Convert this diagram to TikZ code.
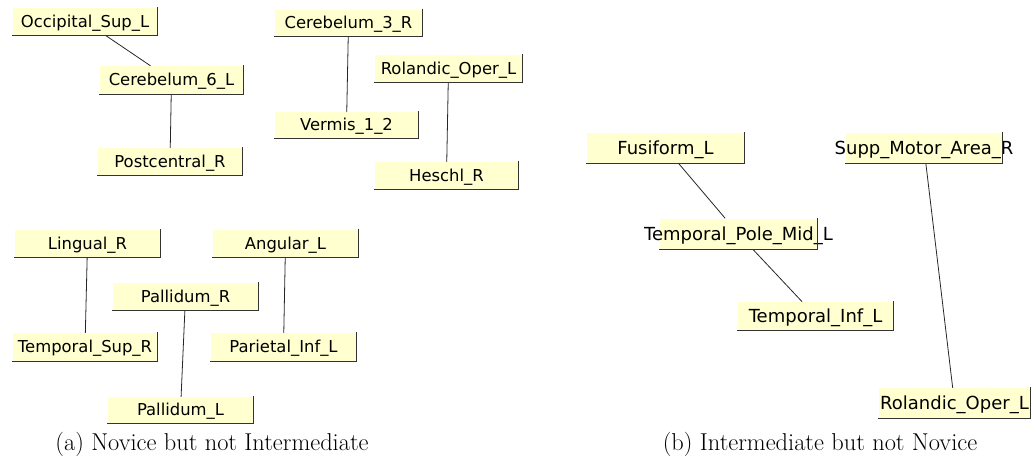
\documentclass[tikz,border=0pt]{standalone}
\usepackage{fontspec}
\newfontfamily\regionfont{DejaVu Sans}
\definecolor{regionfill}{RGB}{255,255,208}
% centred label that may run past its box, vertically centred on the cap height
\newcommand\rg[1]{\makebox[0pt]{\smash{\raisebox{-0.365em}{#1}}}}
\tikzset{
  region/.style={rectangle, inner sep=0pt, fill=regionfill,
    font=\regionfont\fontsize{16.4}{18}\selectfont},
  regionbig/.style={region, font=\regionfont\fontsize{18}{20}\selectfont},
  rim/.style={line width=1.3pt, black!80, line cap=rect},
  link/.style={line width=0.8pt, black!85},
  caption/.style={inner sep=0pt, font=\fontsize{24.4}{28}\selectfont}
}
\begin{document}
\begin{tikzpicture}[x=1pt, y=-1pt]
\useasboundingbox (0,0) rectangle (1036,471);

% (a) Novice but not Intermediate
\node[region, minimum width=144, minimum height=27] (occ)  at (85,21.5)   {\rg{Occipital\_Sup\_L}};
\node[region, minimum width=143, minimum height=28] (cb6)  at (171.5,80)  {\rg{Cerebelum\_6\_L}};
\node[region, minimum width=144, minimum height=27] (post) at (170,161.5) {\rg{Postcentral\_R}};
\node[region, minimum width=147, minimum height=26] (cb3)  at (348.5,23)  {\rg{Cerebelum\_3\_R}};
\node[region, minimum width=147, minimum height=27] (rola) at (448.5,68.5) {\rg{Rolandic\_Oper\_L}};
\node[region, minimum width=143, minimum height=26] (verm) at (346.5,125) {\rg{Vermis\_1\_2}};
\node[region, minimum width=143, minimum height=27] (hesc) at (446.5,175.5) {\rg{Heschl\_R}};
\node[region, minimum width=145, minimum height=27] (ling) at (87.5,243.5) {\rg{Lingual\_R}};
\node[region, minimum width=145, minimum height=27] (ang)  at (285.5,243.5) {\rg{Angular\_L}};
\node[region, minimum width=145, minimum height=27] (palr) at (185.5,296.5) {\rg{Pallidum\_R}};
\node[region, minimum width=144, minimum height=28] (tsup) at (85,347)    {\rg{Temporal\_Sup\_R}};
\node[region, minimum width=145, minimum height=28] (par)  at (283.5,347) {\rg{Parietal\_Inf\_L}};
\node[region, minimum width=145, minimum height=26] (pall) at (180.5,410) {\rg{Pallidum\_L}};

\draw[link] (occ) -- (cb6);
\draw[link] (cb6) -- (post);
\draw[link] (cb3) -- (verm);
\draw[link] (rola) -- (hesc);
\draw[link] (ling) -- (tsup);
\draw[link] (palr) -- (pall);
\draw[link] (ang) -- (par);

% (b) Intermediate but not Novice
\node[regionbig, minimum width=157, minimum height=30] (fus)  at (665.5,148) {\rg{Fusiform\_L}};
\node[regionbig, minimum width=157, minimum height=31] (tpm)  at (738.5,234) {\rg{Temporal\_Pole\_Mid\_L}};
\node[regionbig, minimum width=155, minimum height=28] (tinf) at (815.5,316) {\rg{Temporal\_Inf\_L}};
\node[regionbig, minimum width=156, minimum height=30] (supp) at (924,148)   {\rg{Supp\_Motor\_Area\_R}};
\node[regionbig, minimum width=151, minimum height=30] (rolb) at (954.5,403) {\rg{Rolandic\_Oper\_L}};

\draw[link] (fus) -- (tpm);
\draw[link] (tpm) -- (tinf);
\draw[link] (supp) -- (rolb);

% dark right and bottom rims of the boxes
\foreach \n in {occ,cb6,post,cb3,rola,verm,hesc,ling,ang,palr,tsup,par,pall,fus,tpm,tinf,supp,rolb}
  \draw[rim] (\n.north east) -- (\n.south east) -- (\n.south west);

\node[caption] (capa) at (212,444) {(a) Novice but not Intermediate};
\node[caption] (capb) at (820,444) {(b) Intermediate but not Novice};
\end{tikzpicture}
\end{document}
